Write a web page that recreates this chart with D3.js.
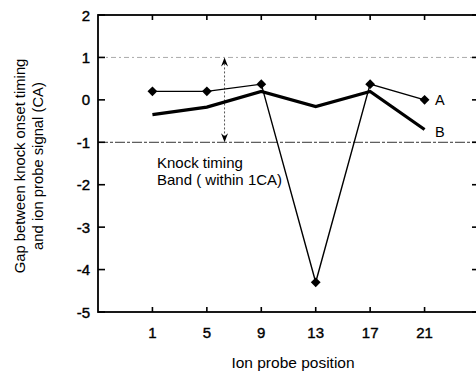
<!DOCTYPE html>
<html>
<head>
<meta charset="utf-8">
<script src="https://cdn.jsdelivr.net/npm/d3@7"></script>
<style>
  body { margin: 0; background: #fff; }
  svg { display: block; font-family: Arial, "Liberation Sans", sans-serif; }
</style>
</head>
<body>
<div id="chart"></div>
<script>
const positions = [1, 5, 9, 13, 17, 21];
const seriesA = [0.2, 0.2, 0.37, -4.3, 0.37, 0.0];
const seriesB = [-0.35, -0.17, 0.2, -0.16, 0.2, -0.7];
const yTicks = [2, 1, 0, -1, -2, -3, -4, -5];

const W = 476, H = 374;
const svg = d3.select('#chart').append('svg')
  .attr('width', W).attr('height', H);

const x = d3.scaleLinear().domain([-3, 25]).range([98, 479]);
const y = d3.scaleLinear().domain([-5, 2]).range([312, 15]);

// band lines at +1 / -1
svg.append('line')
  .attr('x1', x(-3)).attr('x2', x(25))
  .attr('y1', y(1)).attr('y2', y(1))
  .attr('stroke', '#aaa').attr('stroke-width', 1)
  .attr('stroke-dasharray', '5,3,2,3');
svg.append('line')
  .attr('x1', x(-3)).attr('x2', x(25))
  .attr('y1', y(-1)).attr('y2', y(-1))
  .attr('stroke', '#333').attr('stroke-width', 1)
  .attr('stroke-dasharray', '10,2,3,2');

// frame
svg.append('rect')
  .attr('x', x(-3)).attr('y', y(2))
  .attr('width', x(25) - x(-3)).attr('height', y(-5) - y(2))
  .attr('fill', 'none').attr('stroke', '#000').attr('stroke-width', 1.8);

// ticks (inward)
const tk = 5;
svg.append('g').selectAll('line').data(positions).join('line')
  .attr('x1', d => x(d)).attr('x2', d => x(d))
  .attr('y1', y(-5)).attr('y2', y(-5) - tk)
  .attr('stroke', '#000').attr('stroke-width', 1.6);
svg.append('g').selectAll('line').data(positions).join('line')
  .attr('x1', d => x(d)).attr('x2', d => x(d))
  .attr('y1', y(2)).attr('y2', y(2) + tk)
  .attr('stroke', '#000').attr('stroke-width', 1.6);
svg.append('g').selectAll('line').data(yTicks).join('line')
  .attr('x1', x(-3)).attr('x2', x(-3) + tk + 2)
  .attr('y1', d => y(d)).attr('y2', d => y(d))
  .attr('stroke', '#000').attr('stroke-width', 1.6);
svg.append('g').selectAll('line').data(yTicks).join('line')
  .attr('x1', x(25)).attr('x2', x(25) - tk - 2)
  .attr('y1', d => y(d)).attr('y2', d => y(d))
  .attr('stroke', '#000').attr('stroke-width', 1.6);

// tick labels
svg.append('g').selectAll('text').data(positions).join('text')
  .attr('x', d => x(d)).attr('y', y(-5) + 26)
  .attr('text-anchor', 'middle')
  .attr('font-size', 15)
  .attr('stroke', '#000').attr('stroke-width', 0.4)
  .text(d => d);
svg.append('g').selectAll('text').data(yTicks).join('text')
  .attr('x', x(-3) - 8).attr('y', d => y(d) + 5.5)
  .attr('text-anchor', 'end')
  .attr('font-size', 15)
  .attr('stroke', '#000').attr('stroke-width', 0.4)
  .text(d => d < 0 ? '-' + Math.abs(d) : d);

// axis titles
svg.append('text')
  .attr('x', 293).attr('y', 368)
  .attr('text-anchor', 'middle').attr('font-size', 15.5)
  .text('Ion probe position');
const yt = svg.append('g').attr('transform', 'translate(0,166) rotate(-90)');
yt.append('text').attr('x', 0).attr('y', 25)
  .attr('text-anchor', 'middle').attr('font-size', 14.8)
  .text('Gap between knock onset timing');
yt.append('text').attr('x', 0).attr('y', 43)
  .attr('text-anchor', 'middle').attr('font-size', 14.8)
  .text('and ion probe signal (CA)');

// double arrow for band
const ax = x(6.3);
svg.append('line')
  .attr('x1', ax).attr('x2', ax)
  .attr('y1', y(1) + 2).attr('y2', y(-1) - 2)
  .attr('stroke', '#555').attr('stroke-width', 1)
  .attr('stroke-dasharray', '2,2');
svg.append('path')
  .attr('d', `M${ax},${y(1)} l-3.5,9 l3.5,-3 l3.5,3 Z`)
  .attr('fill', '#000');
svg.append('path')
  .attr('d', `M${ax},${y(-1)} l-3.5,-9 l3.5,3 l3.5,-3 Z`)
  .attr('fill', '#000');

// series B (thick, no marker)
const line = d3.line().x((d, i) => x(positions[i])).y(d => y(d));
svg.append('path').datum(seriesB)
  .attr('d', line)
  .attr('fill', 'none').attr('stroke', '#000').attr('stroke-width', 3.2);

// series A (thin with diamonds)
svg.append('path').datum(seriesA)
  .attr('d', line)
  .attr('fill', 'none').attr('stroke', '#000').attr('stroke-width', 1.4);
svg.append('g').selectAll('path').data(seriesA).join('path')
  .attr('transform', (d, i) => `translate(${x(positions[i])},${y(d)}) rotate(45)`)
  .attr('d', d3.symbol(d3.symbolSquare, 48))
  .attr('fill', '#000');

// labels
svg.append('text').attr('x', 435).attr('y', 105)
  .attr('font-size', 14.5).text('A');
svg.append('text').attr('x', 435).attr('y', 137)
  .attr('font-size', 14.5).text('B');

svg.append('text').attr('x', 157).attr('y', 168)
  .attr('font-size', 15).text('Knock timing');
svg.append('text').attr('x', 157).attr('y', 185)
  .attr('font-size', 15).text('Band ( within 1CA)');
</script>
</body>
</html>
